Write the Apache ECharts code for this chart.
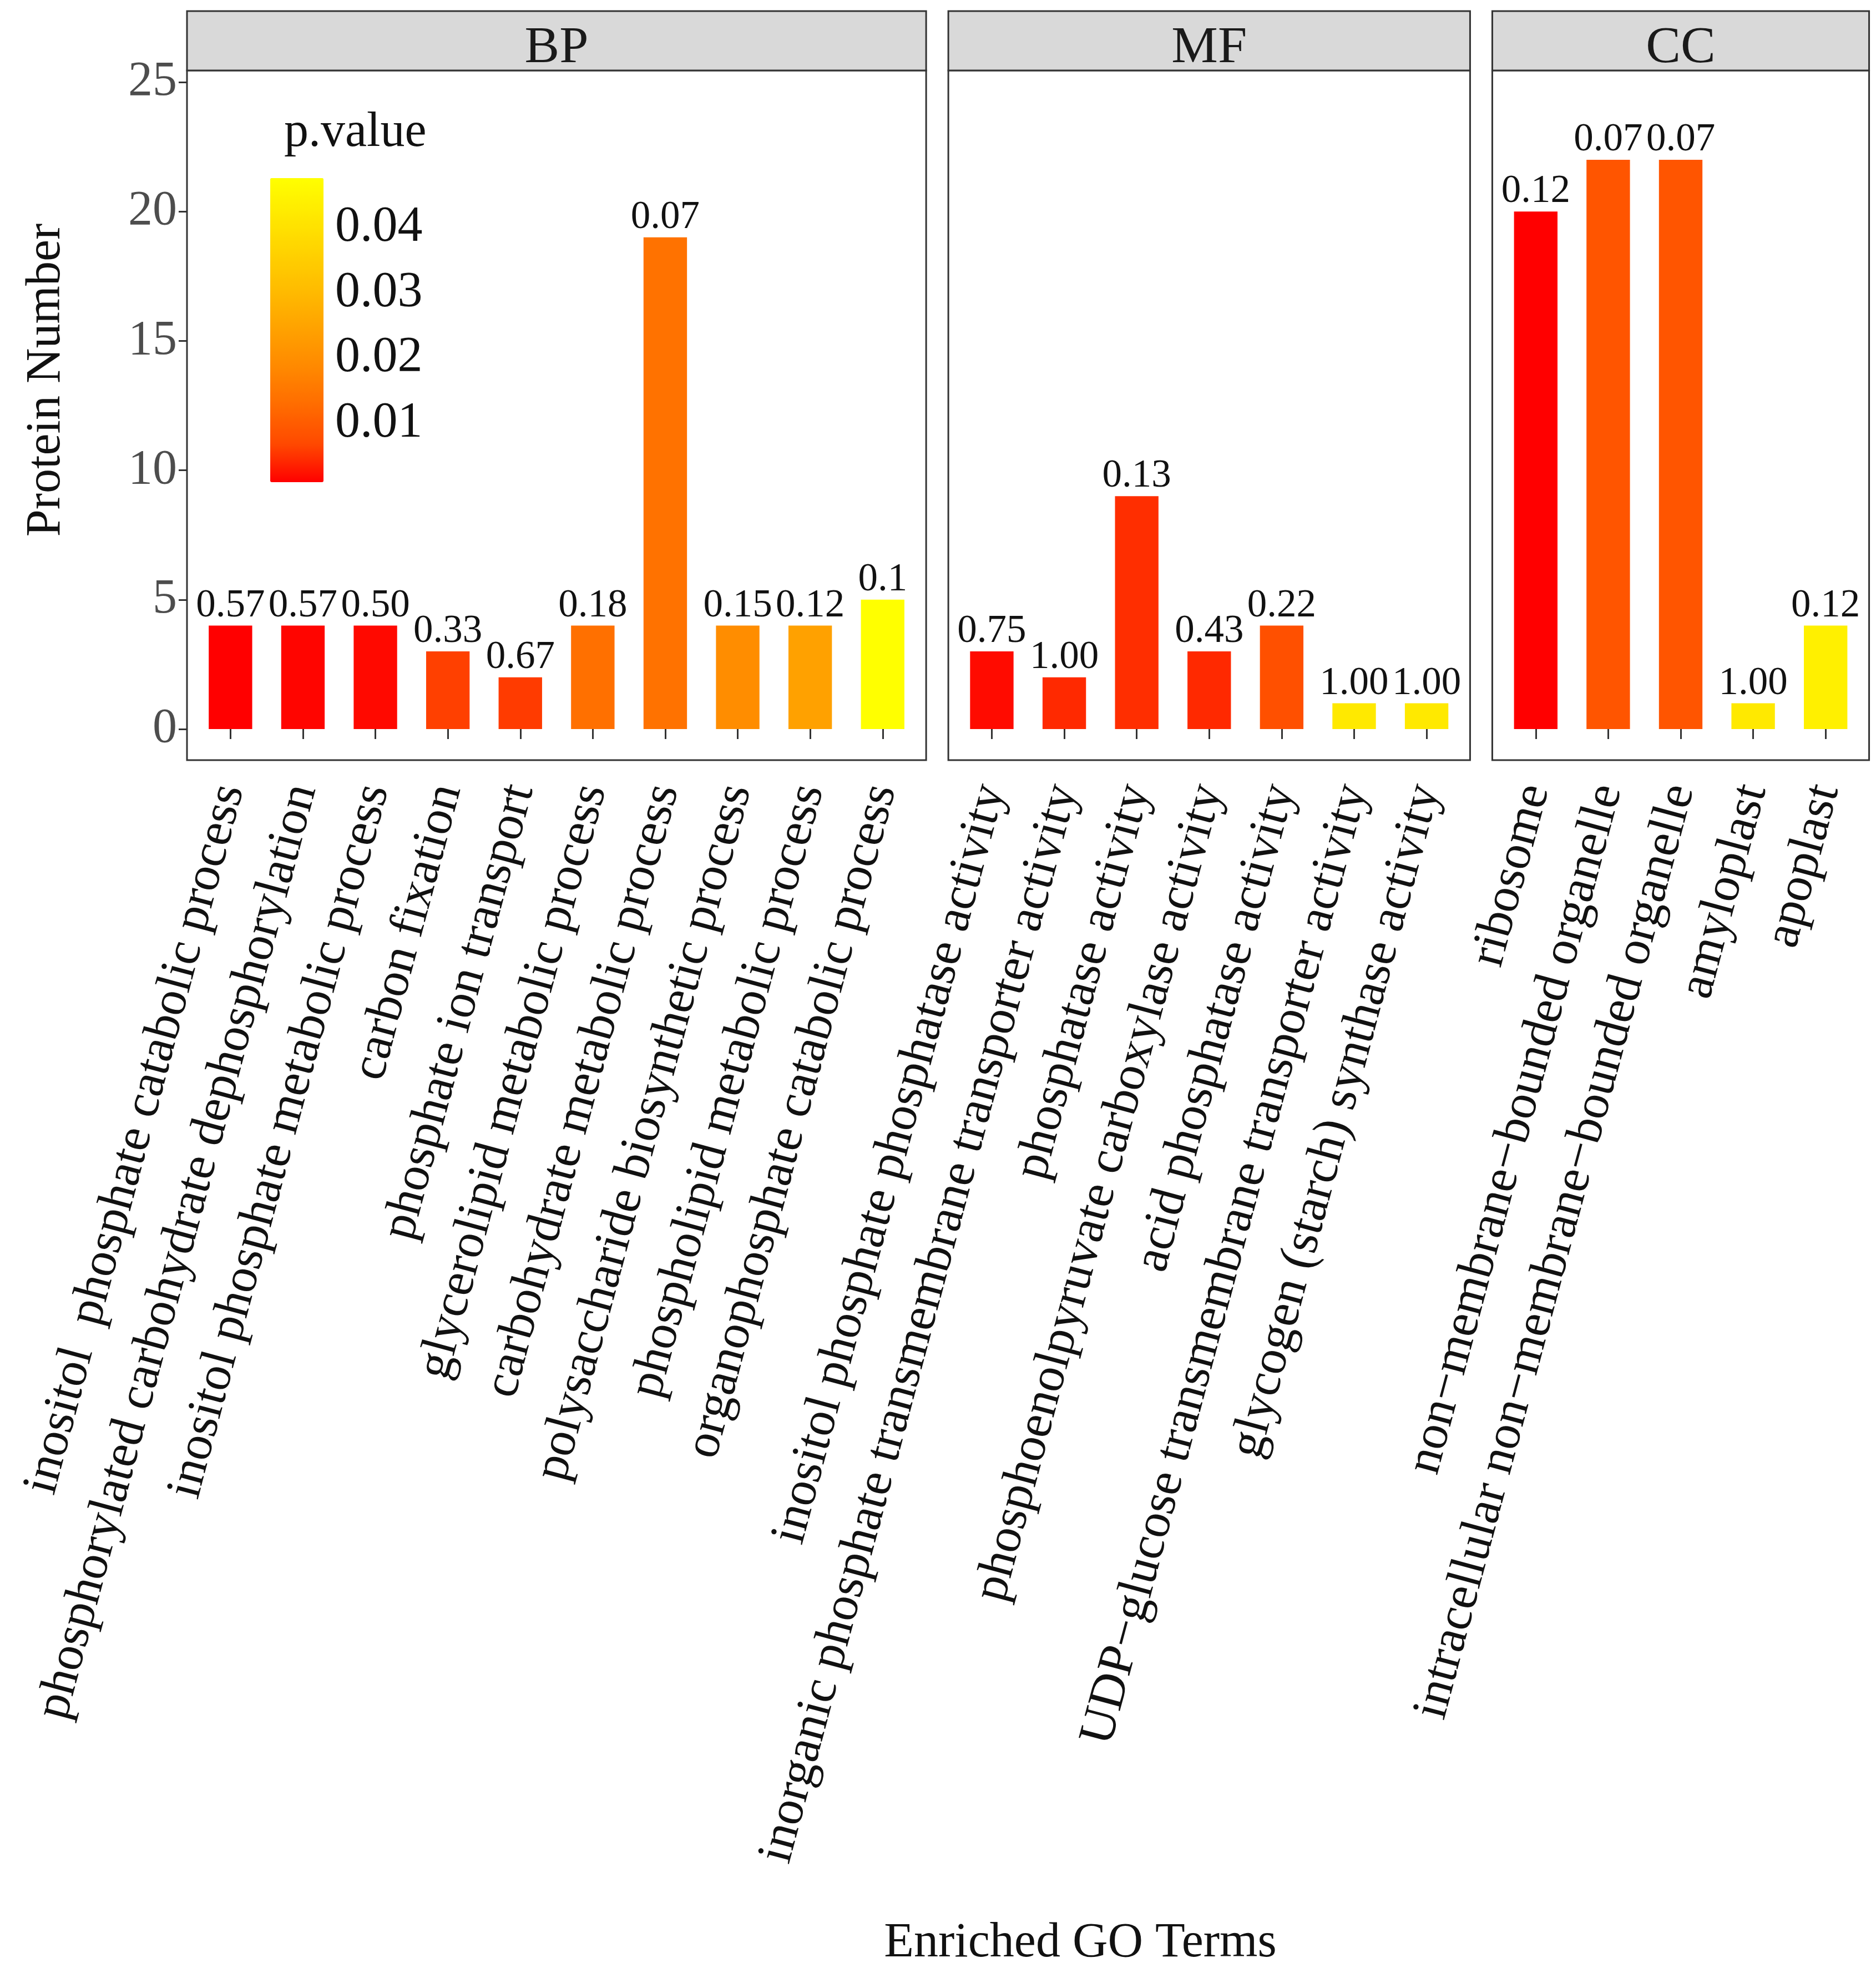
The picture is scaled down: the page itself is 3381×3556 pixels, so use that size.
<!DOCTYPE html>
<html>
<head>
<meta charset="utf-8">
<script src="https://cdn.jsdelivr.net/npm/echarts@6/dist/echarts.min.js"></script>
<style>html,body{margin:0;padding:0;background:#fff}#c{width:3381px;height:3556px}</style>
</head>
<body>
<div id="c"></div>
<script>
// ---------------- data ----------------
const panelNames = ['BP', 'MF', 'CC'];

const bpTerms = ['inositol  phosphate catabolic process', 'phosphorylated carbohydrate dephosphorylation',
  'inositol phosphate metabolic process', 'carbon fixation', 'phosphate ion transport',
  'glycerolipid metabolic process', 'carbohydrate metabolic process', 'polysaccharide biosynthetic process',
  'phospholipid metabolic process', 'organophosphate catabolic process'];
const bpCounts = [4, 4, 4, 3, 2, 4, 19, 4, 4, 5];
const bpLabels = ['0.57', '0.57', '0.50', '0.33', '0.67', '0.18', '0.07', '0.15', '0.12', '0.1'];
const bpPvalues = [0.0010, 0.0014, 0.0017, 0.0061, 0.0057, 0.0136, 0.0140, 0.0196, 0.0243, 0.0476];

const mfTerms = ['inositol phosphate phosphatase activity', 'inorganic phosphate transmembrane transporter activity',
  'phosphatase activity', 'phosphoenolpyruvate carboxylase activity', 'acid phosphatase activity',
  'UDP\u2212glucose transmembrane transporter activity', 'glycogen (starch) synthase activity'];
const mfCounts = [3, 2, 9, 3, 4, 1, 1];
const mfLabels = ['0.75', '1.00', '0.13', '0.43', '0.22', '1.00', '1.00'];
const mfPvalues = [0.0019, 0.0043, 0.0047, 0.0043, 0.0080, 0.0420, 0.0420];

const ccTerms = ['ribosome', 'non\u2212membrane\u2212bounded organelle',
  'intracellular non\u2212membrane\u2212bounded organelle', 'amyloplast', 'apoplast'];
const ccCounts = [20, 22, 22, 1, 4];
const ccLabels = ['0.12', '0.07', '0.07', '1.00', '0.12'];
const ccPvalues = [0.0010, 0.0089, 0.0089, 0.0420, 0.0439];

const yTicks = [0, 5, 10, 15, 20, 25];
const legendTicks = [0.01, 0.02, 0.03, 0.04];
const legendTickLabels = ['0.01', '0.02', '0.03', '0.04'];
// ggplot-like red->yellow gradient (interpolated in Lab space)
const gradientColors = ['#FF0000', '#FF4900', '#FF6B00', '#FF8800', '#FFA100', '#FFBA00', '#FFD100', '#FFE800', '#FFFF00'];

// ---------------- layout ----------------
const FONT = "'Liberation Serif','Times New Roman',serif";
const band = 130.6, gap = 40, firstLeft = 337;
const stripTop = 20, panelTop = 127, panelBottom = 1370;
const yMin = -1.2, yMax = 25.45;
const vm = { left: 487, top: 321, width: 96, height: 548 };

const panels = [
  { name: panelNames[0], terms: bpTerms, counts: bpCounts, labels: bpLabels, p: bpPvalues },
  { name: panelNames[1], terms: mfTerms, counts: mfCounts, labels: mfLabels, p: mfPvalues },
  { name: panelNames[2], terms: ccTerms, counts: ccCounts, labels: ccLabels, p: ccPvalues }
];
let cur = firstLeft;
panels.forEach(pn => {
  pn.frameLeft = cur;
  pn.frameWidth = (pn.terms.length + 0.2) * band;
  cur = cur + pn.frameWidth + gap;
});
const allP = bpPvalues.concat(mfPvalues, ccPvalues);
const pMin = Math.min.apply(null, allP), pMax = Math.max.apply(null, allP);

const grids = [], xAxes = [], yAxes = [], series = [], graphics = [];
panels.forEach((pn, i) => {
  grids.push({
    left: pn.frameLeft + 0.1 * band, width: pn.terms.length * band,
    top: panelTop, height: panelBottom - panelTop, outerBoundsMode: 'none', containLabel: false
  });
  xAxes.push({
    type: 'category', gridIndex: i, data: pn.terms,
    axisLine: { show: false },
    axisTick: { show: true, alignWithLabel: true, length: 18, lineStyle: { color: '#333', width: 3 } },
    axisLabel: { interval: 0, rotate: 75, margin: 46, fontFamily: FONT, fontSize: 90, color: '#111',
      verticalAlign: 'middle', align: 'right', hideOverlap: false },
    splitLine: { show: false }
  });
  yAxes.push({
    type: 'value', gridIndex: i, min: yMin, max: yMax, show: i === 0, offset: 0.1 * band,
    axisLine: { show: false },
    axisTick: { show: true, length: 15, lineStyle: { color: '#333', width: 3 }, customValues: yTicks },
    axisLabel: { customValues: yTicks, margin: 18, fontFamily: FONT, fontSize: 88, color: '#4d4d4d',
      padding: [12, 0, 0, 0] },
    splitLine: { show: false }
  });
  series.push({
    type: 'bar', xAxisIndex: i, yAxisIndex: i, barWidth: '60%', silent: true,
    data: pn.terms.map((t, j) => [t, pn.counts[j], pn.p[j], pn.labels[j]]),
    encode: { x: 0, y: 1 },
    label: { show: true, position: 'top', distance: 0, formatter: prm => prm.data[3],
      fontFamily: FONT, fontSize: 71, color: '#111' }
  });
  // panel frame
  graphics.push({ type: 'rect', z: 50, silent: true,
    shape: { x: pn.frameLeft, y: panelTop, width: pn.frameWidth, height: panelBottom - panelTop },
    style: { fill: 'none', stroke: '#333', lineWidth: 3 } });
  // strip
  graphics.push({ type: 'rect', z: 50, silent: true,
    shape: { x: pn.frameLeft, y: stripTop, width: pn.frameWidth, height: panelTop - stripTop },
    style: { fill: '#D9D9D9', stroke: '#333', lineWidth: 3 } });
  graphics.push({ type: 'text', z: 51, silent: true,
    x: pn.frameLeft + pn.frameWidth / 2, y: (stripTop + panelTop) / 2 + 14,
    style: { text: pn.name, fontFamily: FONT, fontSize: 94, fill: '#1a1a1a', align: 'center', verticalAlign: 'middle' } });
});

// axis titles
graphics.push({ type: 'text', silent: true, x: 84, y: 685, rotation: Math.PI / 2,
  style: { text: 'Protein Number', fontFamily: FONT, fontSize: 88, fill: '#111', align: 'center', verticalAlign: 'middle' } });
graphics.push({ type: 'text', silent: true, x: 1947, y: 3503,
  style: { text: 'Enriched GO Terms', fontFamily: FONT, fontSize: 88, fill: '#111', align: 'center', verticalAlign: 'middle' } });

// legend title and tick labels
graphics.push({ type: 'text', silent: true, x: 512, y: 240,
  style: { text: 'p.value', fontFamily: FONT, fontSize: 88, fill: '#111', align: 'left', verticalAlign: 'middle' } });
legendTicks.forEach((v, k) => {
  const y = vm.top + vm.height * (1 - (v - pMin) / (pMax - pMin));
  graphics.push({ type: 'text', silent: true, x: 604, y: y,
    style: { text: legendTickLabels[k], fontFamily: FONT, fontSize: 90, fill: '#111', align: 'left', verticalAlign: 'middle' } });
});

const chart = echarts.init(document.getElementById('c'), null, { renderer: 'canvas' });
chart.setOption({
  animation: false,
  backgroundColor: '#fff',
  grid: grids,
  xAxis: xAxes,
  yAxis: yAxes,
  series: series,
  visualMap: [{
    type: 'continuous', min: pMin, max: pMax, dimension: 2, seriesIndex: [0, 1, 2],
    calculable: false, realtime: false, hoverLink: false, orient: 'vertical',
    left: vm.left, top: vm.top, itemWidth: vm.width, itemHeight: vm.height, padding: 0,
    inRange: { color: gradientColors }, textStyle: { fontSize: 1, color: 'rgba(0,0,0,0)' }
  }],
  graphic: graphics
});
</script>
</body>
</html>
